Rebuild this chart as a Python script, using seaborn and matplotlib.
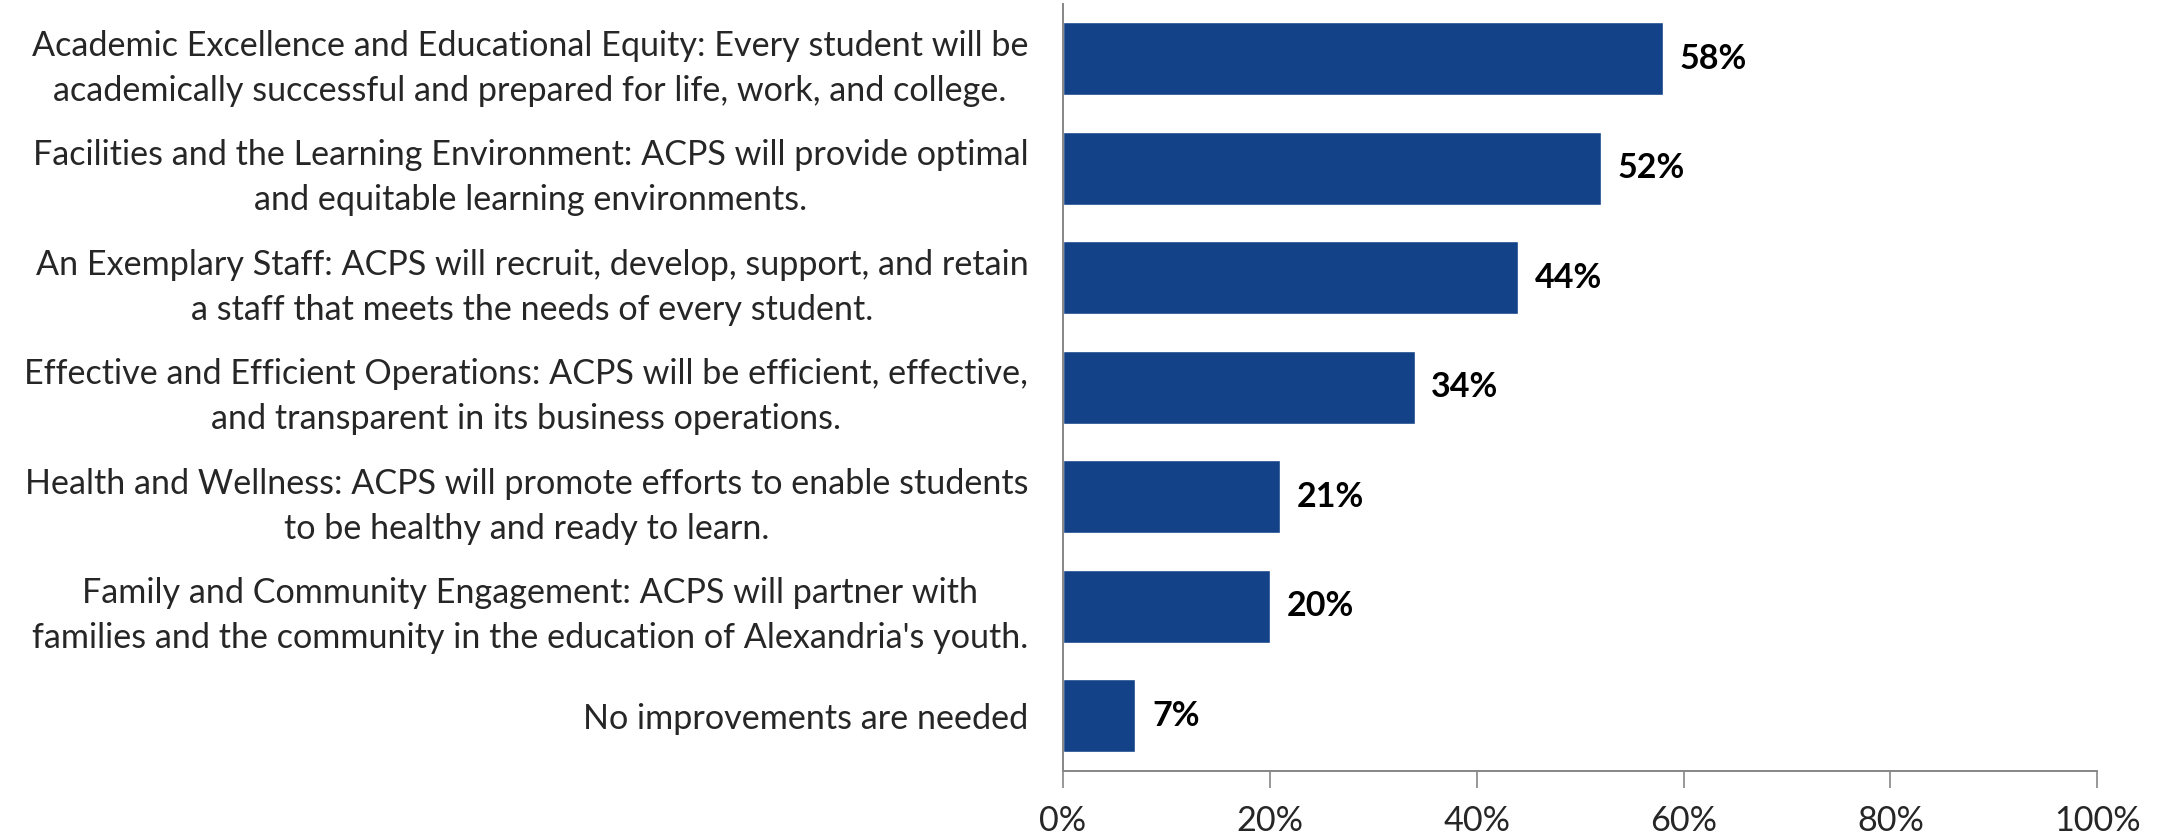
import matplotlib
matplotlib.use("Agg")
import matplotlib.pyplot as plt
import seaborn as sns
import pandas as pd
from matplotlib.ticker import PercentFormatter

# Data
categories = [
    "Academic Excellence and Educational Equity: Every student will be\nacademically successful and prepared for life, work, and college.",
    "Facilities and the Learning Environment: ACPS will provide optimal\nand equitable learning environments.",
    "An Exemplary Staff: ACPS will recruit, develop, support, and retain\na staff that meets the needs of every student.",
    "Effective and Efficient Operations: ACPS will be efficient, effective,\nand transparent in its business operations.",
    "Health and Wellness: ACPS will promote efforts to enable students\nto be healthy and ready to learn.",
    "Family and Community Engagement: ACPS will partner with\nfamilies and the community in the education of Alexandria's youth.",
    "No improvements are needed",
]
values = [58, 52, 44, 34, 21, 20, 7]

df = pd.DataFrame({"category": categories, "value": values})

sns.set_style("white")
plt.rcParams["font.family"] = ["Lato", "DejaVu Sans"]

fig = plt.figure(figsize=(21.65, 8.35), dpi=100)
ax = fig.add_axes([0.491, 0.0772, 0.4777, 0.9181])

bar_color = "#134289"
sns.barplot(data=df, x="value", y="category", color=bar_color, width=0.67,
            saturation=1, ax=ax)

ax.set_xlim(0, 100)
ax.set_xticks([0, 20, 40, 60, 80, 100])
ax.xaxis.set_major_formatter(PercentFormatter(decimals=0))
ax.set_xlabel("")
ax.set_ylabel("")

for i, v in enumerate(values):
    ax.text(v + 1.6, i, f"{v}%", va="center", ha="left",
            fontsize=24.5, fontweight="bold", color="black")

for lbl in ax.get_yticklabels():
    lbl.set_multialignment("center")
    lbl.set_linespacing(1.5)

ax.tick_params(axis="y", left=False, length=0, pad=25, labelsize=24.6)
ax.tick_params(axis="x", bottom=True, length=12, width=1.2, color="#868686",
               direction="out", pad=13, labelsize=24.6)

for side in ["top", "right"]:
    ax.spines[side].set_visible(False)
for side in ["left", "bottom"]:
    ax.spines[side].set_color("#868686")
    ax.spines[side].set_linewidth(1.4)

fig.savefig("out.png", dpi=100)
